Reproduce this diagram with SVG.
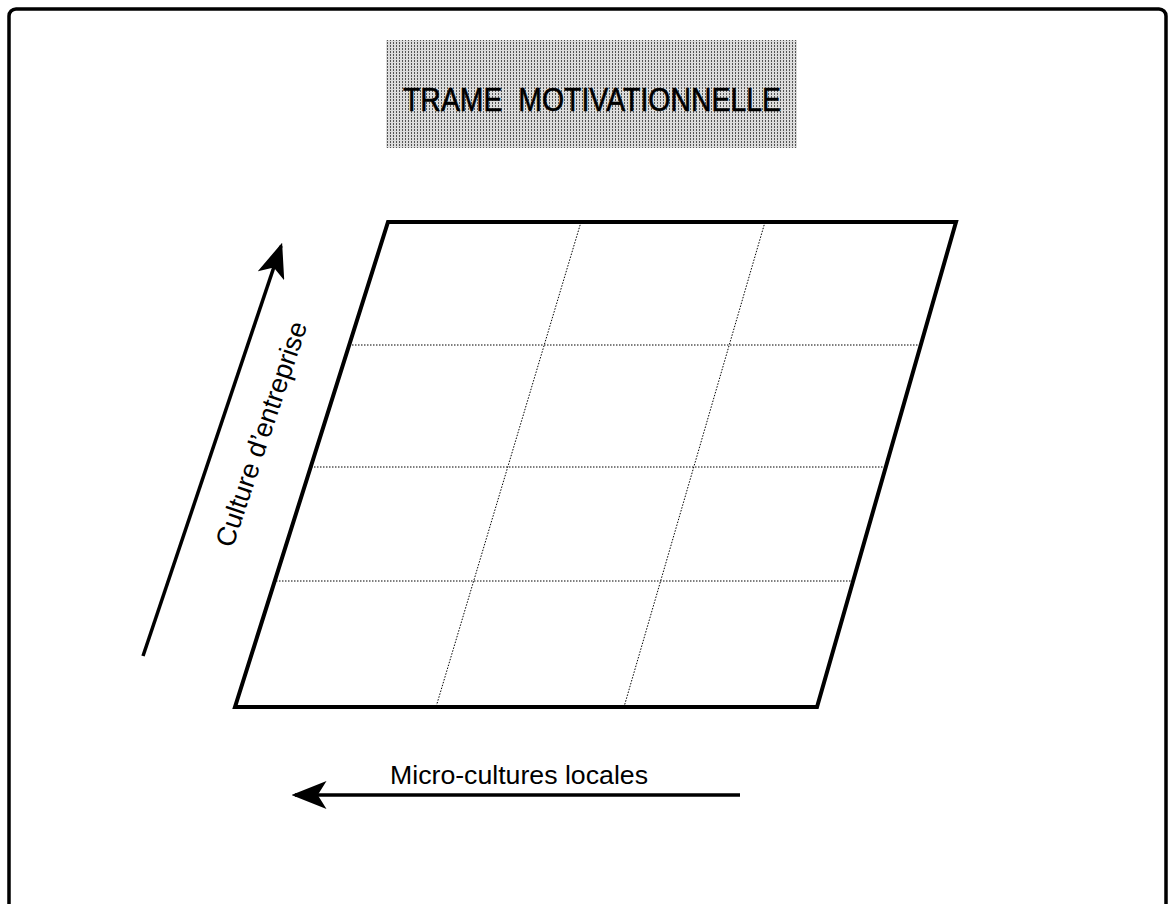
<svg xmlns="http://www.w3.org/2000/svg" width="1169" height="904" viewBox="0 0 1169 904">
<style>
.frame{fill:none;stroke:#000;stroke-width:3.5}
.edge{fill:none;stroke:#000;stroke-width:4;stroke-linejoin:miter}
.grid{fill:none;stroke:#000;stroke-width:1;stroke-dasharray:1.5 1.5}
.axis{fill:none;stroke:#000;stroke-width:3.5}
.lbl{font-family:"Liberation Sans",Arial,sans-serif;fill:#000}
</style>
<defs>
<pattern id="dots" width="3" height="3" patternUnits="userSpaceOnUse">
<rect width="3" height="3" fill="#dcdcdc"/>
<rect x="0" y="0" width="1" height="2" fill="#555"/>
</pattern>
<marker id="arr" markerWidth="10" markerHeight="8" refX="9" refY="4" orient="auto" markerUnits="strokeWidth">
<path d="M0,0 L10,4 L0,8 L2.5,4 Z" fill="#000"/>
</marker>
</defs>
<rect class="frame" x="9" y="9" width="1157" height="960" rx="7"/>
<g id="title">
<rect x="386" y="40" width="411" height="108" fill="url(#dots)"/>
<text class="lbl" x="592" y="111" text-anchor="middle" font-size="34" stroke="#000" stroke-width="0.6" textLength="378" lengthAdjust="spacingAndGlyphs">TRAME &#160;MOTIVATIONNELLE</text>
</g>
<g id="grid">
<path class="grid" d="M581,222 L436,707 M765,222 L624,707"/>
<path class="grid" d="M349,345 L920,345 M311,467 L886,467 M273,581 L853,581"/>
<polygon class="edge" points="388,222 956,222 817,707 235,707"/>
</g>
<g id="connectors">
<line class="axis" x1="143" y1="656" x2="281" y2="246" marker-end="url(#arr)"/>
<line class="axis" x1="740" y1="795" x2="295" y2="795" marker-end="url(#arr)"/>
</g>
<g id="label-culture">
<text class="lbl" font-size="27" text-anchor="middle" transform="translate(270,437) rotate(-71.4)">Culture d’entreprise</text>
</g>
<g id="label-micro">
<text class="lbl" x="519" y="784" text-anchor="middle" font-size="25" textLength="258" lengthAdjust="spacingAndGlyphs">Micro-cultures locales</text>
</g>
</svg>
